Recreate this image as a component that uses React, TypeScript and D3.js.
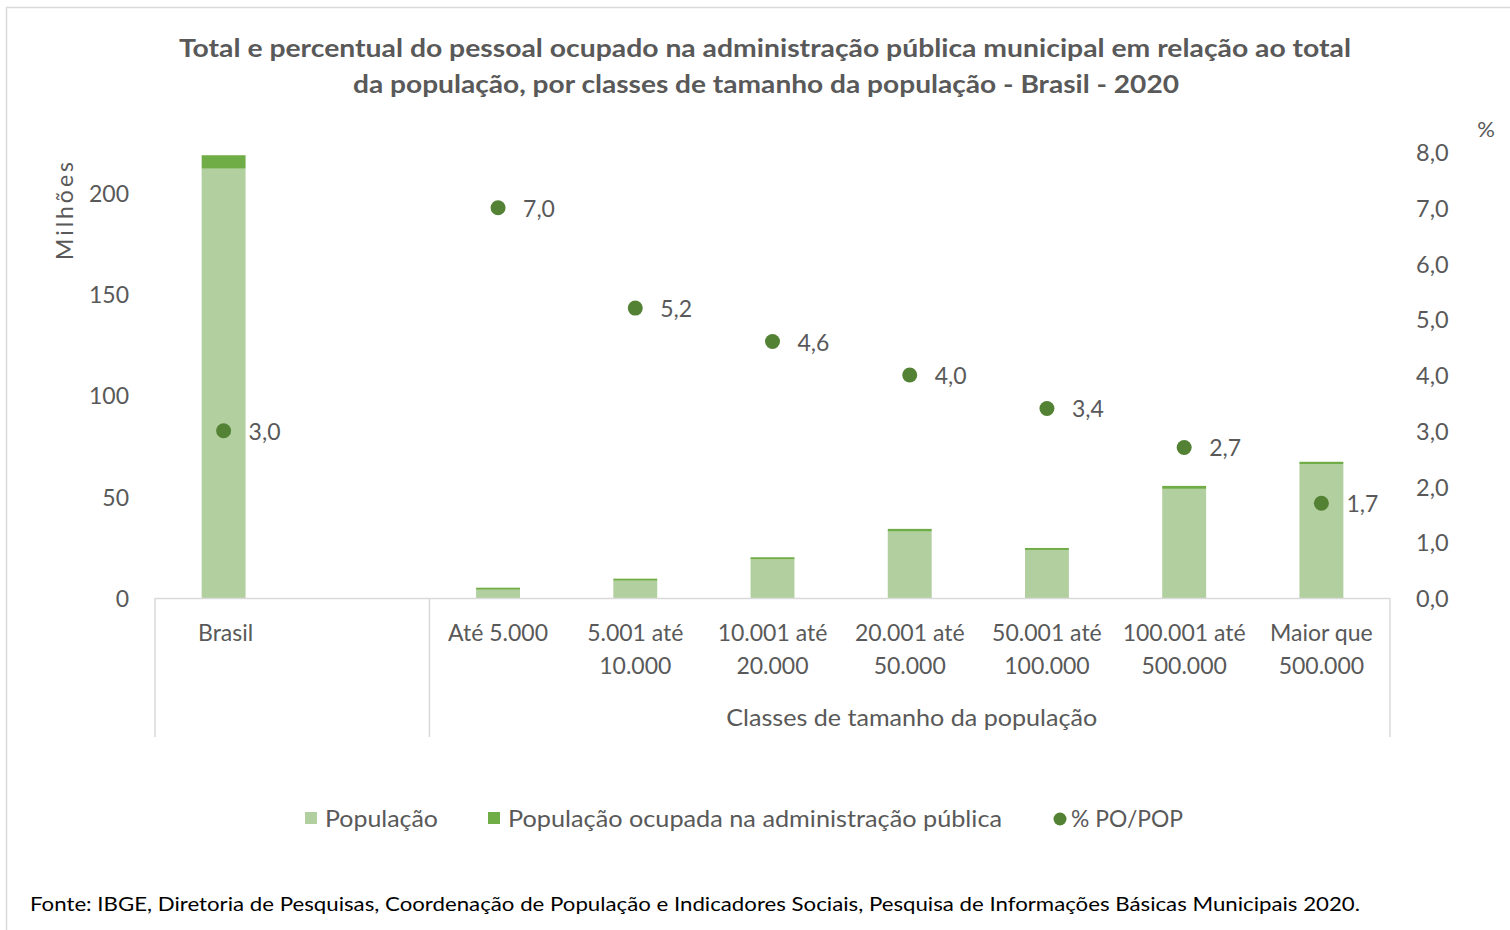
import React from "react";
import * as d3 from "d3";

const categories = ["Brasil", "gap", "Até 5.000", "5.001 até 10.000", "10.001 até 20.000", "20.001 até 50.000", "50.001 até 100.000", "100.001 até 500.000", "Maior que 500.000"];
const labelLines: string[][] = [["Brasil"], [], ["Até 5.000"], ["5.001 até", "10.000"], ["10.001 até", "20.000"], ["20.001 até", "50.000"], ["50.001 até", "100.000"], ["100.001 até", "500.000"], ["Maior que", "500.000"]];
const populacao: (number | null)[] = [211.8, null, 4.1, 8.55, 19.1, 32.8, 23.7, 53.85, 66.1];
const populacaoOcupada: (number | null)[] = [6.6, null, 0.3, 0.45, 0.9, 1.3, 0.8, 1.45, 1.1];
const percentual: (number | null)[] = [3.0, null, 7.0, 5.2, 4.6, 4.0, 3.4, 2.7, 1.7];
const leftTicks = [0, 50, 100, 150, 200];
const rightTicks = [0, 1, 2, 3, 4, 5, 6, 7, 8];

const W = 1510, H = 930;
const FONT = "Lato, 'Open Sans', sans-serif";
const GRAY = "#595959";
const LIGHT = "#b2cf9f";
const DARK = "#70ad47";
const DOT = "#548235";
const AXIS = "#d9d9d9";

export default function App() {
  const x = d3.scaleBand<string>().domain(categories).range([155, 1390]).paddingInner(0.68).paddingOuter(0.34);
  const yL = d3.scaleLinear().domain([0, 220]).range([598, 152]);
  const yR = d3.scaleLinear().domain([0, 8]).range([598, 152]);
  const fmt = (v: number) => v.toFixed(1).replace(".", ",");
  const step = x.step();
  const x0 = 155;
  const gapEnd = x0 + 2 * step;
  const plotEnd = 1390;

  return (
    <svg width={W} height={H} style={{ position: "absolute", left: 0, top: 0, background: "#fff" }} fontFamily={FONT}>
      <rect x={6.5} y={7.5} width={W} height={H} fill="#fff" stroke={AXIS} strokeWidth={1.5} />
      <text x={765} y={57} textAnchor="middle" fontSize={24} fontWeight="bold" fill={GRAY} textLength={1172} lengthAdjust="spacingAndGlyphs">
        Total e percentual do pessoal ocupado na administração pública municipal em relação ao total
      </text>
      <text x={766} y={93} textAnchor="middle" fontSize={24} fontWeight="bold" fill={GRAY} textLength={826} lengthAdjust="spacingAndGlyphs">
        da população, por classes de tamanho da população - Brasil - 2020
      </text>

      {/* Left axis */}
      {leftTicks.map((t) => (
        <text key={"l" + t} x={129} y={yL(t)} textAnchor="end" dominantBaseline="central" fontSize={23} fill={GRAY}>
          {t}
        </text>
      ))}
      <text transform={`translate(64,211) rotate(-90)`} textAnchor="middle" dominantBaseline="central" fontSize={23} fill={GRAY} textLength={98} lengthAdjust="spacing">
        Milhões
      </text>

      {/* Right axis */}
      {rightTicks.map((t) => (
        <text key={"r" + t} x={1416} y={yR(t)} textAnchor="start" dominantBaseline="central" fontSize={23.5} fill={GRAY}>
          {fmt(t)}
        </text>
      ))}
      <text x={1486} y={128} textAnchor="middle" dominantBaseline="central" fontSize={22} fill={GRAY}>
        %
      </text>

      {/* Bars */}
      {categories.map((c, i) => {
        const p = populacao[i];
        const po = populacaoOcupada[i];
        if (p == null || po == null) return null;
        const bx = x(c)!;
        const bw = x.bandwidth();
        const hPO = Math.max(yL(p) - yL(p + po), 2);
        return (
          <g key={"b" + c}>
            <rect x={bx} y={yL(p)} width={bw} height={yL(0) - yL(p)} fill={LIGHT} />
            <rect x={bx} y={yL(p) - hPO} width={bw} height={hPO} fill={DARK} />
          </g>
        );
      })}

      {/* Category axis */}
      <line x1={x0} x2={plotEnd} y1={598.5} y2={598.5} stroke={AXIS} strokeWidth={1.5} />
      {[x0, gapEnd, plotEnd].map((vx, i) => (
        <line key={"v" + i} x1={vx} x2={vx} y1={598} y2={737} stroke={AXIS} strokeWidth={1.5} />
      ))}
      {categories.map((c, i) => {
        const cx = x(c)! + x.bandwidth() / 2 + (i === 0 ? 2 : 0);
        return labelLines[i].map((ln, j) => (
          <text key={c + j} x={cx} y={641 + j * 33} textAnchor="middle" fontSize={23} fill={GRAY}>
            {ln}
          </text>
        ));
      })}
      <text x={(gapEnd + plotEnd) / 2 + 2} y={726} textAnchor="middle" fontSize={23} fill={GRAY} textLength={371} lengthAdjust="spacingAndGlyphs">
        Classes de tamanho da população
      </text>

      {/* Points */}
      {categories.map((c, i) => {
        const v = percentual[i];
        if (v == null) return null;
        const cx = x(c)! + x.bandwidth() / 2;
        return (
          <g key={"p" + c}>
            <circle cx={cx} cy={yR(v)} r={7.5} fill={DOT} />
            <text x={cx + 25} y={yR(v)} dominantBaseline="central" fontSize={23} fill={GRAY}>
              {fmt(v)}
            </text>
          </g>
        );
      })}

      {/* Legend */}
      <rect x={305} y={812} width={12} height={12} fill={LIGHT} />
      <text x={325} y={818} dominantBaseline="central" fontSize={23} fill={GRAY} textLength={113} lengthAdjust="spacingAndGlyphs">População</text>
      <rect x={488} y={812} width={12} height={12} fill={DARK} />
      <text x={508} y={818} dominantBaseline="central" fontSize={23} fill={GRAY} textLength={494} lengthAdjust="spacingAndGlyphs">População ocupada na administração pública</text>
      <circle cx={1060} cy={819} r={6.5} fill={DOT} />
      <text x={1071} y={818} dominantBaseline="central" fontSize={23} fill={GRAY} textLength={112} lengthAdjust="spacingAndGlyphs">% PO/POP</text>

      {/* Footer */}
      <text x={30} y={911} fontSize={20} fill="#000" textLength={1330} lengthAdjust="spacingAndGlyphs">
        Fonte: IBGE, Diretoria de Pesquisas, Coordenação de População e Indicadores Sociais, Pesquisa de Informações Básicas Municipais 2020.
      </text>
    </svg>
  );
}
